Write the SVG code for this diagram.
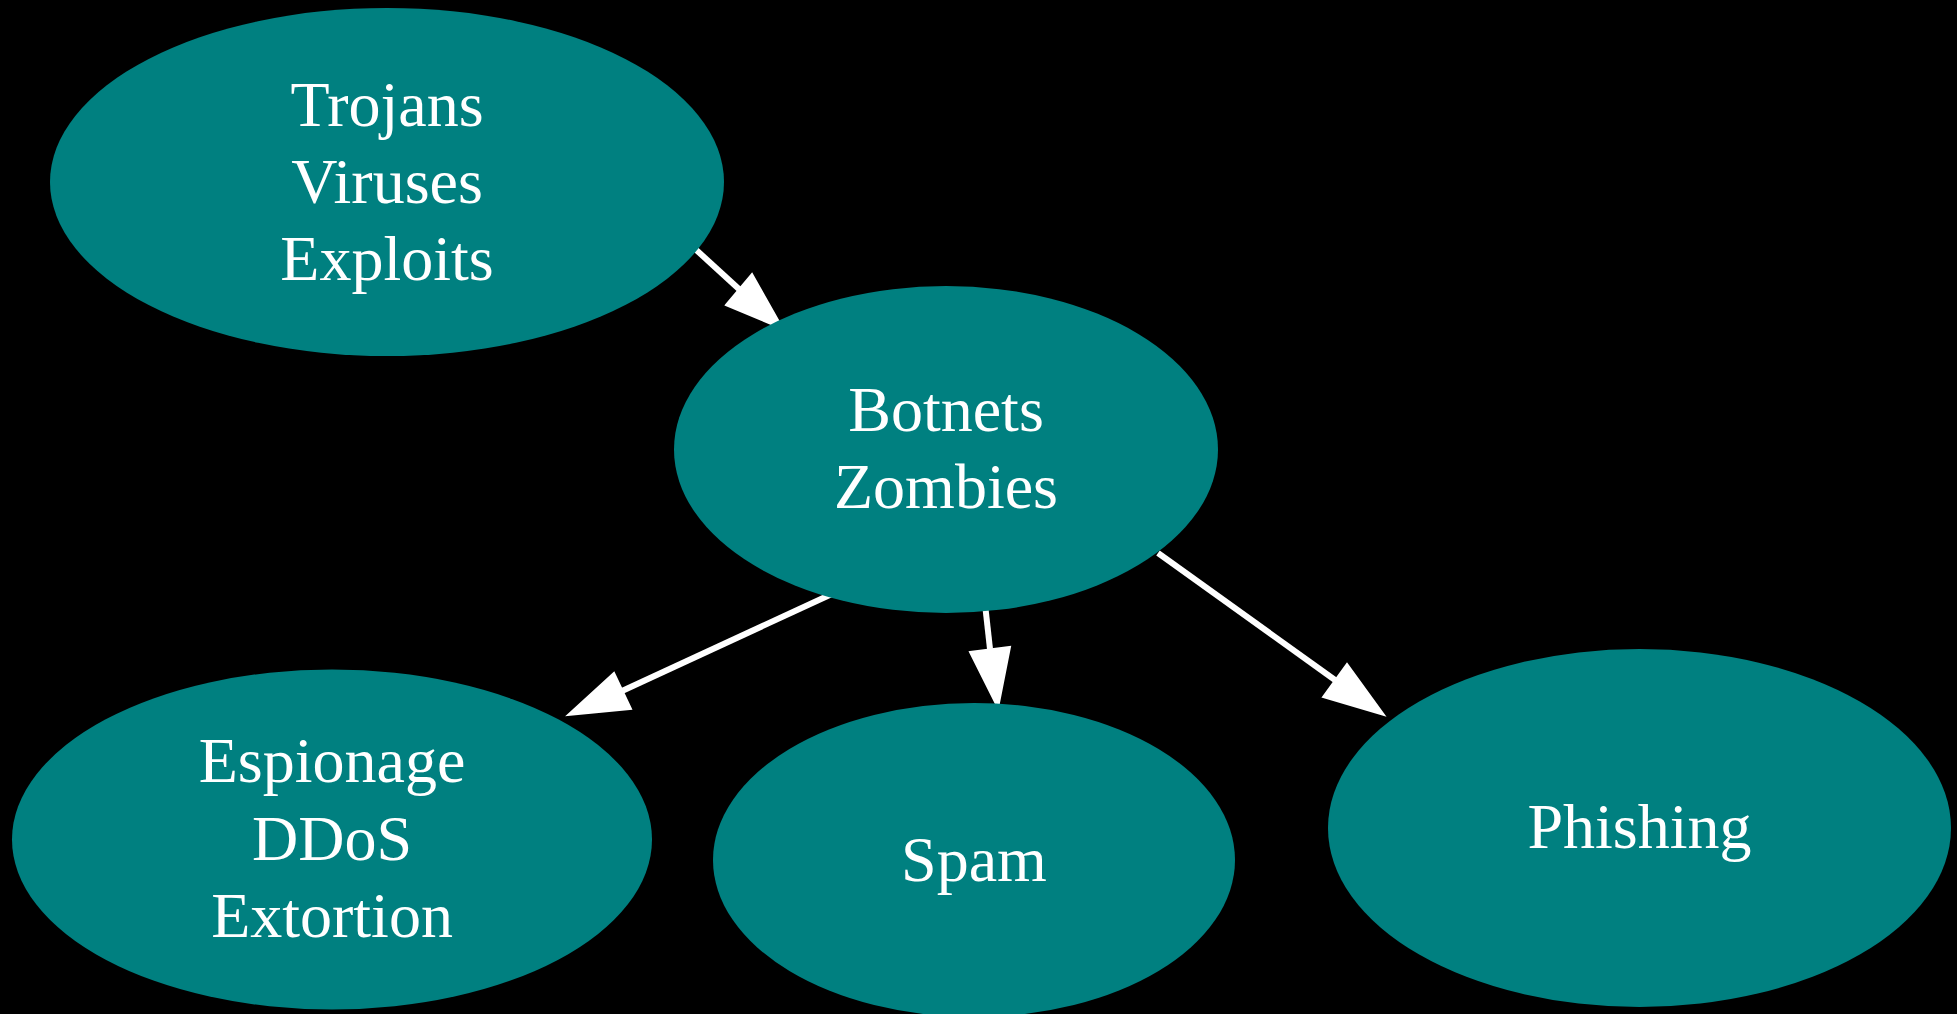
<svg xmlns="http://www.w3.org/2000/svg" width="1957" height="1014" viewBox="0 0 1957 1014">
<style>
.node ellipse{fill:#008080;stroke:none}
.node text{font-family:"Liberation Serif","Times New Roman",serif;font-size:64px;fill:#ffffff;text-anchor:middle}
.edge line{stroke:#ffffff;stroke-width:6}
.edge polygon{fill:#ffffff;stroke:#ffffff;stroke-width:2}
</style>
<rect x="0" y="0" width="1957" height="1014" fill="#000000"/>
<g id="connectors">
<g class="edge" id="e1">
<line x1="693" y1="247" x2="740" y2="290"/>
<polygon points="726,305 752,274 783,329"/>
</g>
<g class="edge" id="e2">
<line x1="834" y1="593" x2="622" y2="691"/>
<polygon points="614,673 631,709 568,715"/>
</g>
<g class="edge" id="e3">
<line x1="985" y1="604" x2="990" y2="649"/>
<polygon points="970,652 1010,647 998,708"/>
</g>
<g class="edge" id="e4">
<line x1="1158" y1="553" x2="1335" y2="680"/>
<polygon points="1323,697 1347,664 1384,715"/>
</g>
</g>
<g class="node" id="trojans">
<ellipse cx="387" cy="182" rx="337" ry="174"/>
<text x="387" y="126">Trojans</text>
<text x="387" y="203">Viruses</text>
<text x="387" y="280">Exploits</text>
</g>
<g class="node" id="botnets">
<ellipse cx="946" cy="449.5" rx="272" ry="163.5"/>
<text x="946" y="431">Botnets</text>
<text x="946" y="508">Zombies</text>
</g>
<g class="node" id="espionage">
<ellipse cx="332" cy="839.5" rx="320" ry="170"/>
<text x="332" y="782">Espionage</text>
<text x="332" y="860">DDoS</text>
<text x="332" y="937">Extortion</text>
</g>
<g class="node" id="spam">
<ellipse cx="974" cy="860" rx="261" ry="157"/>
<text x="974" y="881">Spam</text>
</g>
<g class="node" id="phishing">
<ellipse cx="1639.5" cy="828" rx="311.5" ry="179"/>
<text x="1639.5" y="848">Phishing</text>
</g>
</svg>
